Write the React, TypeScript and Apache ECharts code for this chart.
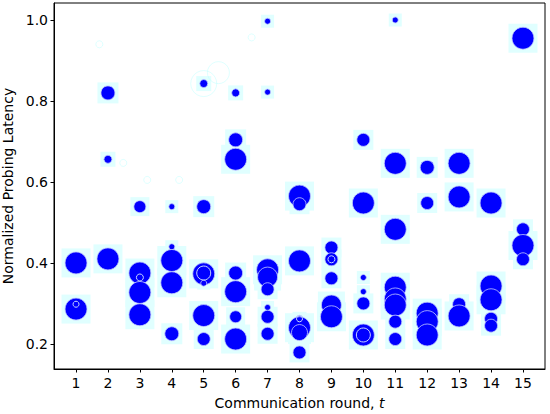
import React, { useEffect, useRef } from "react";
import * as echarts from "echarts";

// Main blue markers: round t, normalized latency, marker diameter (px)
const rounds: number[] = [
  1, 1,
  2, 2, 2,
  3, 3, 3, 3,
  4, 4, 4, 4, 4,
  5, 5, 5, 5, 5, 5,
  6, 6, 6, 6, 6, 6, 6,
  7, 7, 7, 7, 7, 7, 7, 7,
  8, 8, 8, 8, 8, 8, 8,
  9, 9, 9, 9, 9,
  10, 10, 10, 10, 10, 10,
  11, 11, 11, 11, 11, 11, 11, 11,
  12, 12, 12, 12, 12,
  13, 13, 13, 13,
  14, 14, 14, 14, 14,
  15, 15, 15, 15,
];
const latency: number[] = [
  0.40, 0.286,
  0.82, 0.656, 0.41,
  0.539, 0.375, 0.327, 0.272,
  0.539, 0.44, 0.406, 0.351, 0.225,
  0.843, 0.539, 0.373, 0.35, 0.27, 0.212,
  0.82, 0.704, 0.656, 0.375, 0.329, 0.267, 0.212,
  0.997, 0.822, 0.383, 0.365, 0.335, 0.29, 0.267, 0.225,
  0.565, 0.545, 0.405, 0.262, 0.24, 0.228, 0.179,
  0.438, 0.409, 0.362, 0.296, 0.267,
  0.704, 0.548, 0.364, 0.329, 0.30, 0.222,
  1.0, 0.646, 0.483, 0.34, 0.311, 0.296, 0.255, 0.212,
  0.636, 0.548, 0.276, 0.255, 0.222,
  0.646, 0.563, 0.298, 0.269,
  0.548, 0.343, 0.309, 0.262, 0.245,
  0.955, 0.483, 0.443, 0.409,
];
const markerSize: number[] = [
  22, 22,
  14, 8, 22,
  12, 22, 22, 22,
  6, 6, 22, 22, 14,
  8, 14, 22, 6, 22, 13,
  8, 14, 22, 14, 22, 12, 22,
  6, 6, 22, 20, 13, 6, 13, 13,
  22, 13, 22, 7, 22, 16, 13,
  13, 13, 13, 20, 22,
  13, 22, 6, 6, 13, 22,
  6, 22, 22, 22, 22, 22, 13, 13,
  14, 13, 22, 22, 22,
  22, 22, 13, 22,
  22, 22, 22, 13, 13,
  22, 13, 22, 13,
];

// Hollow white rings drawn over some markers
const ringRounds: number[] = [1, 3, 5, 8, 9, 10];
const ringLatency: number[] = [0.298, 0.364, 0.375, 0.262, 0.409, 0.222];
const ringSize: number[] = [6, 7, 14, 6, 7, 14];

// Faint ghost markers
const ghostRounds: number[] = [1.73, 2.48, 3.23, 4.23, 5.0, 5.46, 6.5];
const ghostLatency: number[] = [0.94, 0.647, 0.605, 0.605, 0.843, 0.87, 0.957];
const ghostSize: number[] = [7, 7, 7, 7, 26, 22, 7];

const xTicks: number[] = [1, 2, 3, 4, 5, 6, 7, 8, 9, 10, 11, 12, 13, 14, 15];
const yTicks: number[] = [0.2, 0.4, 0.6, 0.8, 1.0];

const FONT = "DejaVu Sans";

export default function App() {
  const ref = useRef<HTMLDivElement>(null);
  useEffect(() => {
    document.body.style.margin = "0";
    if (!ref.current) return;
    const chart = echarts.init(ref.current, undefined, { renderer: "svg" });
    const main = rounds.map((r, i) => [r, latency[i], markerSize[i]]);
    const rings = ringRounds.map((r, i) => [r, ringLatency[i], ringSize[i]]);
    const ghosts = ghostRounds.map((r, i) => [r, ghostLatency[i], ghostSize[i]]);
    chart.setOption({
      animation: false,
      backgroundColor: "#ffffff",
      grid: {
        left: 54,
        right: 5,
        top: 3,
        bottom: 45,
        outerBoundsMode: "none",
        containLabel: false,
        show: true,
        borderColor: "#000",
        borderWidth: 1,
        backgroundColor: "transparent",
      },
      xAxis: {
        type: "value",
        min: 0.31,
        max: 15.69,
        splitLine: { show: false },
        axisLine: { show: true, lineStyle: { color: "#000", width: 1 } },
        axisTick: {
          show: true,
          inside: false,
          length: 3.5,
          lineStyle: { color: "#000" },
          customValues: xTicks,
        },
        axisLabel: {
          color: "#000",
          fontFamily: FONT,
          fontSize: 14,
          margin: 7,
          customValues: xTicks,
          formatter: (v: number) => String(v),
        },
        name: "Communication round, {i|t}",
        nameLocation: "middle",
        nameGap: 27,
        nameTextStyle: {
          color: "#000",
          fontFamily: FONT,
          fontSize: 14,
          rich: { i: { fontStyle: "italic", fontFamily: FONT, fontSize: 14, color: "#000" } },
        },
      },
      yAxis: {
        type: "value",
        min: 0.138,
        max: 1.042,
        splitLine: { show: false },
        axisLine: { show: true, lineStyle: { color: "#000", width: 1 } },
        axisTick: {
          show: true,
          inside: false,
          length: 3.5,
          lineStyle: { color: "#000" },
          customValues: yTicks,
        },
        axisLabel: {
          color: "#000",
          fontFamily: FONT,
          fontSize: 14,
          margin: 6,
          customValues: yTicks,
          formatter: (v: number) => v.toFixed(1),
        },
        name: "Normalized Probing Latency",
        nameLocation: "middle",
        nameGap: 37,
        nameTextStyle: { color: "#000", fontFamily: FONT, fontSize: 14 },
      },
      series: [
        {
          type: "scatter",
          data: main,
          symbol: "rect",
          symbolSize: (v: number[]) => v[2] + 7,
          itemStyle: { color: "#e0ffff", opacity: 1 },
          z: 1,
          silent: true,
        },
        {
          type: "scatter",
          data: ghosts,
          symbol: "circle",
          symbolSize: (v: number[]) => v[2],
          itemStyle: { color: "rgba(255,255,255,0)", borderColor: "#b8ffff", borderWidth: 1, opacity: 0.45 },
          z: 2,
          silent: true,
        },
        {
          type: "scatter",
          data: main,
          symbol: "circle",
          symbolSize: (v: number[]) => v[2],
          itemStyle: { color: "#0000ff", borderColor: "#c4ccff", borderWidth: 0.8, opacity: 1 },
          z: 3,
          silent: true,
        },
        {
          type: "scatter",
          data: rings,
          symbol: "circle",
          symbolSize: (v: number[]) => v[2],
          itemStyle: { color: "rgba(0,0,255,0)", borderColor: "#c8d8ff", borderWidth: 1, opacity: 1 },
          z: 4,
          silent: true,
        },
      ],
    });
    return () => chart.dispose();
  }, []);
  return <div ref={ref} style={{ width: 550, height: 414 }} />;
}
